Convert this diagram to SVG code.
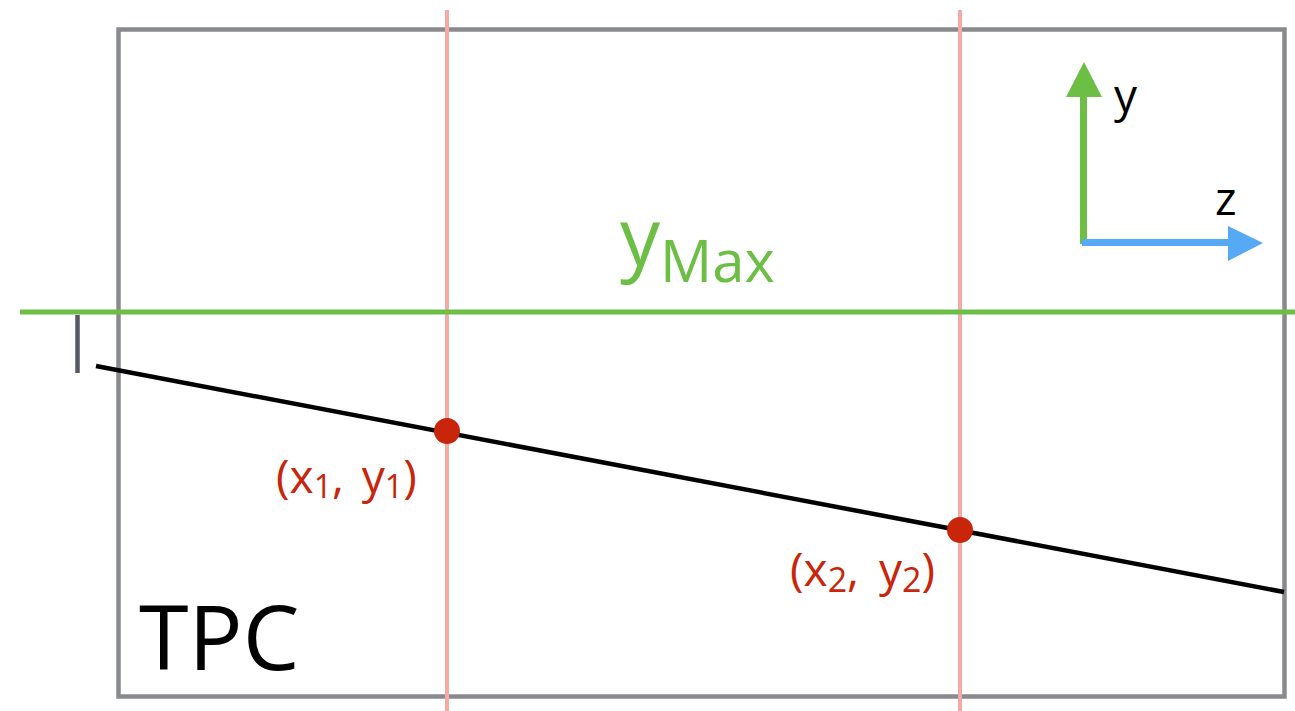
<svg xmlns="http://www.w3.org/2000/svg" width="1295" height="711" viewBox="0 0 1295 711">
<style>
text{font-family:"Open Sans","Liberation Sans",sans-serif}
.red{fill:#c8250b}
.guide{stroke:#f5aaa8;stroke-width:4}
</style>
<rect width="1295" height="711" fill="#fff"/>
<g id="tpc">
<rect x="118.5" y="29.5" width="1166" height="667" fill="none" stroke="#898a8e" stroke-width="4.5"/>
<text x="139" y="670" font-size="90" fill="#000">TPC</text>
</g>
<g id="guides">
<line class="guide" x1="447" y1="10" x2="447" y2="711"/>
<line class="guide" x1="960" y1="10" x2="960" y2="711"/>
</g>
<g id="ymax">
<line x1="20" y1="312" x2="1295" y2="312" stroke="#6cbf44" stroke-width="5"/>
<text x="620" y="266" fill="#6cbf44" font-size="80">y<tspan font-size="58" dy="16">Max</tspan></text>
</g>
<g id="connectors">
<line x1="77.5" y1="315" x2="77.5" y2="373" stroke="#555a60" stroke-width="4.5"/>
<line x1="96" y1="366" x2="1284" y2="592" stroke="#000" stroke-width="4.5"/>
</g>
<g id="p1">
<circle cx="447" cy="431" r="13" class="red"/>
<text x="276" y="493" font-size="46" class="red">(x<tspan font-size="32" dy="5">1</tspan><tspan dy="-5">, </tspan><tspan dx="6">y</tspan><tspan font-size="32" dy="5">1</tspan><tspan dy="-5">)</tspan></text>
</g>
<g id="p2">
<circle cx="960" cy="530" r="13" class="red"/>
<text x="790" y="586" font-size="46" class="red">(x<tspan font-size="34" dy="6">2</tspan><tspan dy="-6">, </tspan><tspan dx="8">y</tspan><tspan font-size="34" dy="6">2</tspan><tspan dy="-6">)</tspan></text>
</g>
<g id="axes">
<line x1="1083.5" y1="244" x2="1083.5" y2="95" stroke="#6cbf44" stroke-width="7"/>
<polygon points="1066,97 1102,97 1084,62" fill="#6cbf44"/>
<line x1="1082" y1="242.5" x2="1230" y2="242.5" stroke="#55a9f5" stroke-width="7"/>
<polygon points="1228,226 1228,261 1263,243" fill="#55a9f5"/>
<text x="1114" y="112" font-size="46" fill="#000">y</text>
<text x="1215" y="215" font-size="46" fill="#000">z</text>
</g>
</svg>
